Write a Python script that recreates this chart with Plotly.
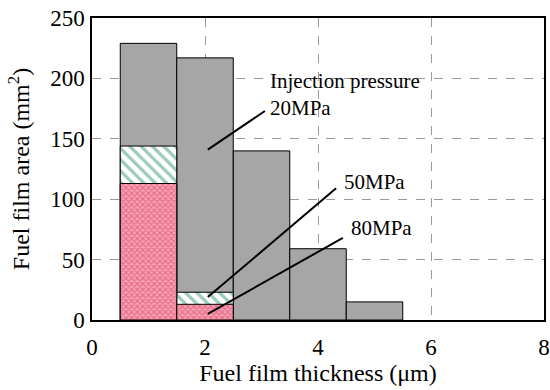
import plotly.graph_objects as go

thickness = [1, 2, 3, 4, 5]
area_20 = [229, 217, 140, 59, 15]
thickness_hi = [1, 2]
area_50 = [144, 23]
area_80 = [113, 13]

labels = ["Injection pressure<br>20MPa", "50MPa", "80MPa"]
label_x = [3.12, 4.42, 4.55]
label_y = [187, 114, 76]
line_start_x = [3.06, 4.32, 4.44]
line_start_y = [173, 109, 68]
line_end_x = [2.05, 2.05, 2.05]
line_end_y = [141, 19, 5]

font_family = "Liberation Serif"
tick_font = dict(family=font_family, size=23, color="black")
title_font = dict(family=font_family, size=24, color="black")

fig = go.Figure()
fig.add_trace(go.Bar(
    x=thickness, y=area_20, width=1, name="20MPa",
    marker=dict(color="#a6a6a6", line=dict(color="black", width=1)),
))
fig.add_trace(go.Bar(
    x=thickness_hi, y=area_50, width=1, name="50MPa",
    marker=dict(color="white", line=dict(color="black", width=1),
                pattern=dict(shape="\\", fgcolor="#3a9677", bgcolor="white",
                             size=8, solidity=0.4)),
))
fig.add_trace(go.Bar(
    x=thickness_hi, y=area_80, width=1, name="80MPa",
    marker=dict(color="#ee8399", line=dict(color="black", width=1),
                pattern=dict(shape="x", fgcolor="#e0385e", bgcolor="#f4a4b6",
                             size=4, solidity=0.55)),
))

for i in range(len(labels)):
    fig.add_shape(type="line", xref="x", yref="y",
                  x0=line_start_x[i], y0=line_start_y[i],
                  x1=line_end_x[i], y1=line_end_y[i],
                  line=dict(color="black", width=2))
    fig.add_annotation(x=label_x[i], y=label_y[i], text=labels[i],
                       showarrow=False, xanchor="left", yanchor="middle",
                       align="left",
                       font=dict(family=font_family, size=21, color="black"))

fig.update_layout(
    barmode="overlay",
    showlegend=False,
    width=550, height=390,
    margin=dict(l=92, r=6, t=18, b=70),
    plot_bgcolor="white", paper_bgcolor="white",
    font=tick_font,
)
fig.update_xaxes(
    range=[0, 8], tickvals=[0, 2, 4, 6, 8],
    tickfont=tick_font, ticklabelstandoff=6,
    showgrid=True, gridcolor="#9a9a9a", griddash="dash", gridwidth=1,
    showline=True, linecolor="black", linewidth=1.5, mirror=True,
    ticks="", zeroline=False, automargin=False,
    title=dict(text="Fuel film thickness (μm)", standoff=1, font=title_font),
)
fig.update_yaxes(
    range=[0, 250], tickvals=[0, 50, 100, 150, 200, 250],
    tickfont=tick_font, ticklabelstandoff=1,
    showgrid=True, gridcolor="#9a9a9a", griddash="dash", gridwidth=1,
    showline=True, linecolor="black", linewidth=1.5, mirror=True,
    ticks="", zeroline=False, automargin=False,
    title=dict(text="Fuel film area (mm<sup>2</sup>)", standoff=14, font=title_font),
)

fig.write_html("out.html", config={"displayModeBar": False},
               post_script="document.body.style.margin='0';document.body.style.padding='0';")
